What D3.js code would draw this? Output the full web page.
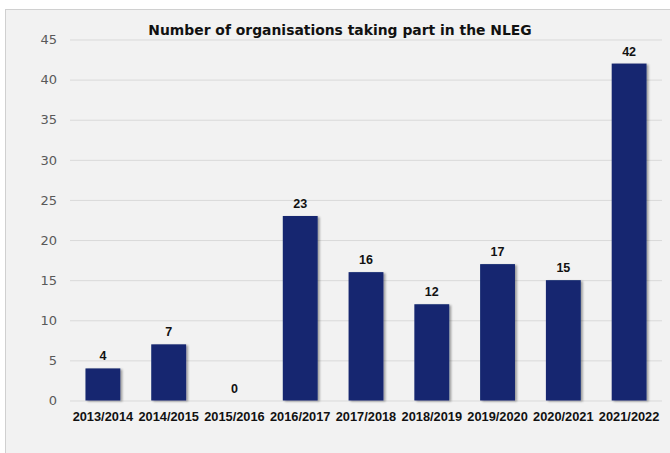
<!DOCTYPE html>
<html><head><meta charset="utf-8">
<script src="https://cdn.jsdelivr.net/npm/d3@7"></script>
<style>html,body{margin:0;padding:0;background:#fff;}svg{display:block;}</style>
</head><body>
<svg id="chart" width="670" height="453"></svg>
<script>
const categories = ["2013/2014","2014/2015","2015/2016","2016/2017","2017/2018","2018/2019","2019/2020","2020/2021","2021/2022"];
const values = [4,7,0,23,16,12,17,15,42];
const yTicks = [0,5,10,15,20,25,30,35,40,45];
const title = "Number of organisations taking part in the NLEG";

const svg = d3.select("#chart");
const fontFam = "'DejaVu Sans', 'Noto Sans', sans-serif";
const labFam = "'Liberation Sans', Arial, sans-serif";

// panel
svg.append("rect").attr("x",5.5).attr("y",9.5).attr("width",700).attr("height",470)
  .attr("fill","#f2f2f2").attr("stroke","#d0d0d0").attr("stroke-width",1);

const defs = svg.append("defs");
const f = defs.append("filter").attr("id","sh").attr("x","-20%").attr("y","-20%").attr("width","150%").attr("height","140%");
f.append("feGaussianBlur").attr("in","SourceAlpha").attr("stdDeviation",1.2);
f.append("feOffset").attr("dx",2).attr("dy",1).attr("result","ob");
f.append("feComponentTransfer").append("feFuncA").attr("type","linear").attr("slope",0.35);
const m = f.append("feMerge"); m.append("feMergeNode"); m.append("feMergeNode").attr("in","SourceGraphic");

const x = d3.scaleBand().domain(categories).range([70,662]).paddingInner(0.47).paddingOuter(0.235);
const y = d3.scaleLinear().domain([0,45]).range([400.5,39.5]);

// grid
const gy = svg.append("g").attr("transform","translate(70,0)")
  .call(d3.axisLeft(y).tickValues(yTicks).tickSize(-592).tickPadding(13));
gy.select(".domain").remove();
gy.selectAll(".tick line").attr("stroke","#d9d9d9").attr("stroke-width",1);
gy.selectAll(".tick text").attr("fill","#595959").attr("font-family",fontFam).attr("font-size","13px");

// bars
svg.append("g").selectAll("rect").data(values).join("rect")
  .attr("x",(d,i)=>x(categories[i])).attr("width",x.bandwidth())
  .attr("y",d=>y(d)).attr("height",d=>y(0)-y(d))
  .attr("fill","#13276f").attr("filter","url(#sh)");

// value labels
svg.append("g").selectAll("text").data(values).join("text")
  .attr("x",(d,i)=>x(categories[i])+x.bandwidth()/2).attr("y",d=>y(d)-8)
  .attr("text-anchor","middle").attr("font-family",labFam).attr("font-weight","bold")
  .attr("font-size","12.5px").attr("fill","#111").text(d=>d);

// x labels
const gx = svg.append("g").attr("transform","translate(0,400.5)")
  .call(d3.axisBottom(x).tickSize(0).tickPadding(11));
gx.select(".domain").remove();
gx.selectAll(".tick text").attr("fill","#111").attr("font-family",labFam).attr("font-weight","bold").attr("font-size","12.8px");

// title
svg.append("text").attr("x",340).attr("y",35).attr("text-anchor","middle")
  .attr("font-family",fontFam).attr("font-weight","bold").attr("font-size","13.9px").attr("fill","#111")
  .text(title);
</script>
</body></html>
